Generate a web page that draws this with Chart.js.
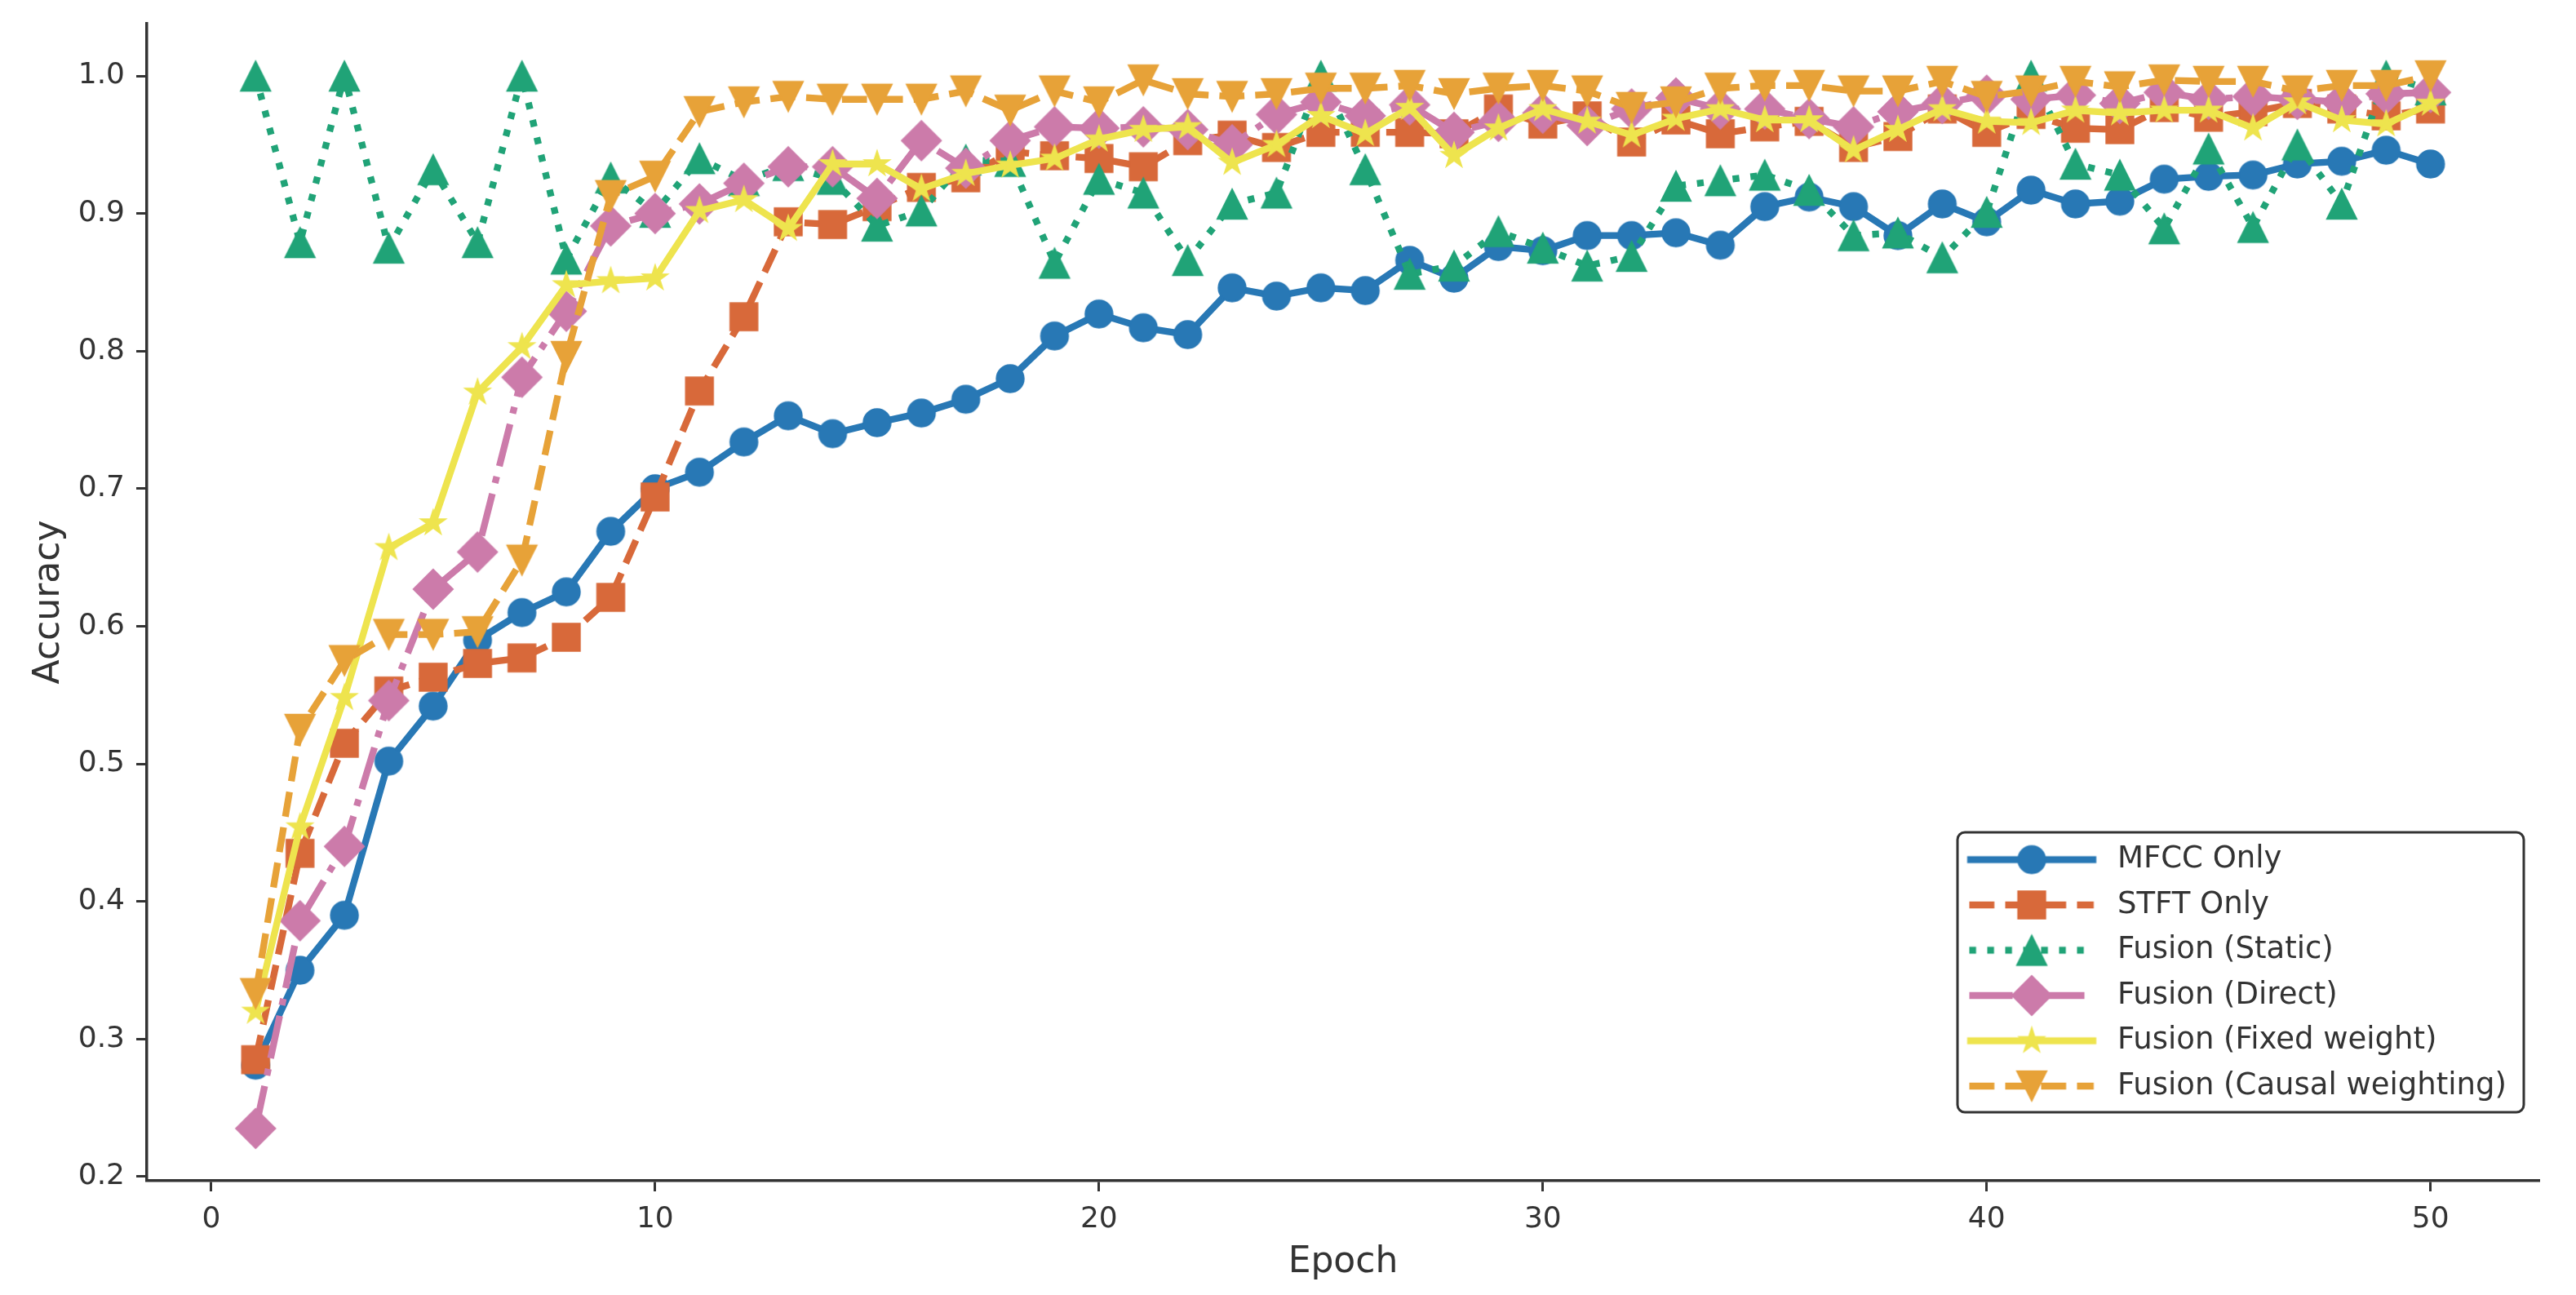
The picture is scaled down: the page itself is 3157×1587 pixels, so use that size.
<!DOCTYPE html>
<html>
<head>
<meta charset="utf-8">
<script src="https://cdn.jsdelivr.net/npm/chart.js@4.4.1/dist/chart.umd.min.js"></script>
<style>
  html, body { margin: 0; padding: 0; background: #ffffff; }
  #wrap { width: 3157px; height: 1587px; position: relative; }
</style>
</head>
<body>
<div id="wrap"><canvas id="c" width="3157" height="1587"></canvas></div>
<script>
// ---------------- data ----------------
const epochs = [1,2,3,4,5,6,7,8,9,10,11,12,13,14,15,16,17,18,19,20,21,22,23,24,25,26,27,28,29,30,31,32,33,34,35,36,37,38,39,40,41,42,43,44,45,46,47,48,49,50];
const xTickValues = [0, 10, 20, 30, 40, 50];
const yTickValues = [0.2, 0.3, 0.4, 0.5, 0.6, 0.7, 0.8, 0.9, 1.0];
const xTitle = 'Epoch';
const yTitle = 'Accuracy';
const seriesNames = ['MFCC Only', 'STFT Only', 'Fusion (Static)', 'Fusion (Direct)', 'Fusion (Fixed weight)', 'Fusion (Causal weighting)'];

const mfccOnly = [0.281,0.350,0.390,0.502,0.542,0.590,0.610,0.625,0.669,0.700,0.712,0.734,0.753,0.740,0.748,0.755,0.765,0.780,0.811,0.827,0.817,0.812,0.846,0.840,0.846,0.844,0.866,0.853,0.876,0.873,0.884,0.884,0.886,0.877,0.905,0.912,0.905,0.884,0.907,0.894,0.917,0.907,0.909,0.925,0.927,0.928,0.936,0.938,0.946,0.936];
const stftOnly = [0.285,0.435,0.515,0.553,0.563,0.573,0.577,0.592,0.621,0.694,0.771,0.825,0.894,0.892,0.905,0.919,0.926,0.945,0.942,0.940,0.934,0.953,0.957,0.948,0.959,0.959,0.959,0.958,0.976,0.965,0.971,0.952,0.968,0.958,0.963,0.967,0.948,0.956,0.976,0.959,0.972,0.962,0.961,0.977,0.970,0.974,0.980,0.976,0.971,0.976];
const fusionStatic = [1.000,0.879,1.000,0.875,0.932,0.879,1.000,0.867,0.926,0.901,0.940,0.924,0.935,0.925,0.891,0.902,0.939,0.938,0.864,0.925,0.915,0.866,0.907,0.915,1.000,0.932,0.856,0.862,0.887,0.875,0.862,0.869,0.920,0.924,0.928,0.917,0.884,0.886,0.868,0.901,1.000,0.936,0.928,0.889,0.947,0.890,0.950,0.907,1.000,0.990];
const fusionDirect = [0.235,0.386,0.440,0.546,0.627,0.654,0.781,0.829,0.891,0.900,0.907,0.922,0.934,0.934,0.911,0.953,0.933,0.953,0.963,0.962,0.963,0.961,0.950,0.972,0.981,0.971,0.979,0.959,0.967,0.973,0.964,0.976,0.984,0.976,0.976,0.969,0.963,0.974,0.980,0.986,0.983,0.986,0.980,0.988,0.983,0.985,0.983,0.981,0.987,0.988];
const fusionFixed = [0.320,0.454,0.548,0.657,0.675,0.770,0.803,0.848,0.851,0.853,0.902,0.910,0.889,0.936,0.936,0.918,0.929,0.935,0.940,0.954,0.961,0.963,0.937,0.950,0.971,0.958,0.977,0.942,0.962,0.976,0.967,0.957,0.969,0.976,0.968,0.968,0.946,0.961,0.976,0.967,0.966,0.975,0.973,0.975,0.975,0.962,0.981,0.968,0.965,0.980];
const fusionCausal = [0.333,0.525,0.575,0.594,0.594,0.596,0.648,0.796,0.913,0.927,0.974,0.981,0.985,0.983,0.983,0.983,0.989,0.975,0.989,0.981,0.997,0.987,0.985,0.987,0.991,0.991,0.993,0.987,0.991,0.993,0.989,0.977,0.981,0.991,0.993,0.993,0.989,0.989,0.996,0.985,0.989,0.996,0.992,0.997,0.996,0.996,0.989,0.993,0.993,1.000];

const seriesValues = [mfccOnly, stftOnly, fusionStatic, fusionDirect, fusionFixed, fusionCausal];

// ---------------- styles ----------------
const LW = 8.3;
const styles = [
  { color: '#2878B5', dash: [],                                 marker: 'circle',  cap: 'square' },
  { color: '#D8693A', dash: [3.7*LW, 1.6*LW],                   marker: 'square',  cap: 'butt' },
  { color: '#20A377', dash: [1*LW, 1.65*LW],                    marker: 'triUp',   cap: 'butt' },
  { color: '#CC7BAA', dash: [6.4*LW, 1.6*LW, 1*LW, 1.6*LW],     marker: 'diamond', cap: 'butt' },
  { color: '#EEE44E', dash: [],                                 marker: 'star',    cap: 'square' },
  { color: '#E7A238', dash: [3.7*LW, 1.6*LW],                   marker: 'triDown', cap: 'butt' }
];
const TEXT = '#333333';
const FONT = 'DejaVu Sans';

function markerPath(ctx, type, cx, cy) {
  ctx.beginPath();
  switch (type) {
    case 'circle': ctx.arc(cx, cy, 17, 0, Math.PI * 2); break;
    case 'square': ctx.rect(cx - 17, cy - 17, 34, 34); break;
    case 'triUp':
      ctx.moveTo(cx, cy - 18.5); ctx.lineTo(cx + 18.5, cy + 18.5); ctx.lineTo(cx - 18.5, cy + 18.5); ctx.closePath(); break;
    case 'triDown':
      ctx.moveTo(cx, cy + 18.5); ctx.lineTo(cx + 18.5, cy - 18.5); ctx.lineTo(cx - 18.5, cy - 18.5); ctx.closePath(); break;
    case 'diamond':
      ctx.moveTo(cx, cy - 24.5); ctx.lineTo(cx + 24.5, cy); ctx.lineTo(cx, cy + 24.5); ctx.lineTo(cx - 24.5, cy); ctx.closePath(); break;
    case 'star':
      for (let i = 0; i < 10; i++) {
        const r = i % 2 === 0 ? 16.5 : 16.5 * 0.381966;
        const a = -Math.PI / 2 + i * Math.PI / 5;
        const px = cx + r * Math.cos(a), py = cy + r * Math.sin(a);
        if (i === 0) ctx.moveTo(px, py); else ctx.lineTo(px, py);
      }
      ctx.closePath(); break;
  }
}
function drawMarker(ctx, type, cx, cy, color) {
  ctx.save();
  ctx.setLineDash([]);
  ctx.fillStyle = color; ctx.strokeStyle = color; ctx.lineWidth = 1.4; ctx.lineJoin = 'miter';
  markerPath(ctx, type, cx, cy);
  ctx.fill(); ctx.stroke();
  ctx.restore();
}
function makeMarkerImage(st) {
  const c = document.createElement('canvas'); c.width = 54; c.height = 54;
  drawMarker(c.getContext('2d'), st.marker, 27, 27, st.color);
  return c;
}
const LEG_BOX_W = 173;
function makeLegendImage(st) {
  const c = document.createElement('canvas'); c.width = LEG_BOX_W; c.height = 54;
  const ctx = c.getContext('2d');
  const cx = LEG_BOX_W / 2, cy = 27;
  ctx.strokeStyle = st.color; ctx.lineWidth = LW; ctx.lineCap = st.cap;
  ctx.setLineDash(st.dash);
  ctx.beginPath();
  const x0 = st.cap === 'square' ? cx - 75 : cx - 76.5;
  const x1 = st.cap === 'square' ? cx + 75 : cx + 76;
  ctx.moveTo(x0, cy); ctx.lineTo(x1, cy); ctx.stroke();
  drawMarker(ctx, st.marker, cx, cy, st.color);
  return c;
}
const markerImages = styles.map(makeMarkerImage);
const legendImages = styles.map(makeLegendImage);

// ---------------- layout constants ----------------
const LEGEND_FONT = 37, LEGEND_PAD = 18.5;
const LEGEND_POS = { left: 2385, top: 1016.5, width: 720, height: 420 };
const LEGEND_FRAME = { x: 2399, y: 1020, w: 694, h: 343, r: 9 };

const legendPlacer = {
  id: 'legendPlacer',
  beforeDraw(chart) {
    const lg = chart.legend;
    if (lg) {
      lg.left = LEGEND_POS.left; lg.top = LEGEND_POS.top;
      lg.width = LEGEND_POS.width; lg.height = LEGEND_POS.height;
      lg.right = lg.left + lg.width; lg.bottom = lg.top + lg.height;
    }
    const ctx = chart.ctx, f = LEGEND_FRAME;
    ctx.save();
    ctx.beginPath();
    ctx.moveTo(f.x + f.r, f.y);
    ctx.arcTo(f.x + f.w, f.y, f.x + f.w, f.y + f.h, f.r);
    ctx.arcTo(f.x + f.w, f.y + f.h, f.x, f.y + f.h, f.r);
    ctx.arcTo(f.x, f.y + f.h, f.x, f.y, f.r);
    ctx.arcTo(f.x, f.y, f.x + f.w, f.y, f.r);
    ctx.closePath();
    ctx.fillStyle = '#ffffff'; ctx.fill();
    ctx.lineWidth = 3; ctx.strokeStyle = TEXT; ctx.stroke();
    ctx.restore();
  }
};

Chart.defaults.font.family = FONT;
Chart.defaults.color = TEXT;

const datasets = seriesNames.map((name, i) => ({
  label: name,
  data: epochs.map((e, j) => ({ x: e, y: seriesValues[i][j] })),
  borderColor: styles[i].color,
  backgroundColor: styles[i].color,
  borderWidth: LW,
  borderDash: styles[i].dash,
  borderCapStyle: styles[i].cap,
  borderJoinStyle: 'round',
  pointStyle: markerImages[i],
  pointRadius: 18,
  pointHoverRadius: 18,
  tension: 0,
  fill: false,
  order: seriesNames.length - i
}));

new Chart(document.getElementById('c'), {
  type: 'line',
  data: { datasets },
  plugins: [legendPlacer],
  options: {
    responsive: false,
    devicePixelRatio: 1,
    animation: false,
    events: [],
    layout: { padding: { left: 0, top: 29, right: 45, bottom: 0 } },
    scales: {
      x: {
        type: 'linear',
        position: 'bottom',
        min: -1.45,
        max: 52.45,
        afterBuildTicks: (s) => { s.ticks = xTickValues.map(v => ({ value: v })); },
        afterFit: (s) => { s.height = 140; s.paddingLeft = 0; s.paddingRight = 0; },
        ticks: { font: { size: 36 }, color: TEXT, padding: 13, maxRotation: 0, autoSkip: false, callback: (v) => String(v) },
        grid: { display: true, drawOnChartArea: false, drawTicks: true, tickLength: 13, tickWidth: 3, tickColor: TEXT },
        border: { display: true, color: TEXT, width: 3.5 },
        title: { display: true, text: xTitle, font: { size: 44 }, color: TEXT, padding: { top: 0, bottom: 13 } }
      },
      y: {
        type: 'linear',
        position: 'left',
        min: 0.197,
        max: 1.038,
        afterBuildTicks: (s) => { s.ticks = yTickValues.map(v => ({ value: v })); },
        afterFit: (s) => { s.width = 180; s.paddingTop = 0; s.paddingBottom = 0; },
        ticks: { font: { size: 36 }, color: TEXT, padding: 14, callback: (v) => Number(v).toFixed(1) },
        grid: { display: true, drawOnChartArea: false, drawTicks: true, tickLength: 13, tickWidth: 3, tickColor: TEXT },
        border: { display: true, color: TEXT, width: 3.5 },
        title: { display: true, text: yTitle, font: { size: 44 }, color: TEXT, padding: { top: 34, bottom: 0 } }
      }
    },
    plugins: {
      tooltip: { enabled: false },
      legend: {
        display: true,
        position: 'chartArea',
        align: 'start',
        labels: {
          usePointStyle: true,
          pointStyleWidth: LEG_BOX_W,
          boxHeight: LEGEND_FONT,
          padding: LEGEND_PAD,
          color: TEXT,
          font: { size: LEGEND_FONT },
          sort: (a, b) => a.datasetIndex - b.datasetIndex,
          generateLabels: (chart) => {
            const items = Chart.defaults.plugins.legend.labels.generateLabels(chart);
            items.forEach(it => { it.pointStyle = legendImages[it.datasetIndex]; it.fontColor = TEXT; });
            return items;
          }
        }
      }
    }
  }
});
</script>
</body>
</html>
